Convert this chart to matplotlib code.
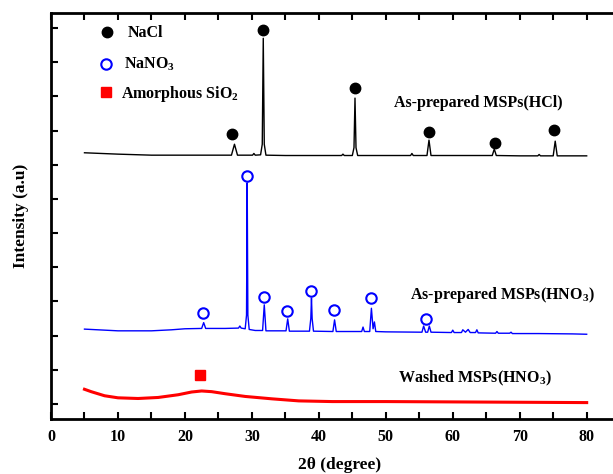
import numpy as np
import matplotlib
matplotlib.use('Agg')
import matplotlib.pyplot as plt
from matplotlib.ticker import MultipleLocator

plt.rcParams['font.family'] = ['Liberation Serif', 'DejaVu Serif']
plt.rcParams['font.weight'] = 'bold'
plt.rcParams['mathtext.fontset'] = 'custom'
plt.rcParams['mathtext.rm'] = 'Liberation Serif:bold'
plt.rcParams['mathtext.it'] = 'Liberation Serif:bold'
plt.rcParams['mathtext.bf'] = 'Liberation Serif:bold'

# traces (2theta, offset intensity)
hcl_x = [5, 10, 15, 20, 25, 26.95, 27.4, 27.85, 30.1, 30.3, 30.5, 31.3, 31.55, 31.7, 31.85, 32.1,
         35, 40, 43.4, 43.6, 43.8, 45.0, 45.25, 45.4, 45.55, 45.8, 50, 53.7, 53.9, 54.1,
         56.15, 56.45, 56.75, 60, 65.9, 66.2, 66.5, 70, 72.7, 72.9, 73.1, 75.0, 75.3, 75.6, 80]
hcl_y = [7.35, 7.31, 7.28, 7.28, 7.28, 7.28, 7.6, 7.28, 7.28, 7.33, 7.28, 7.29, 7.6, 10.7, 7.6, 7.28,
         7.27, 7.27, 7.27, 7.31, 7.27, 7.27, 7.5, 8.95, 7.5, 7.27, 7.27, 7.27, 7.33, 7.27,
         7.27, 7.72, 7.27, 7.27, 7.27, 7.46, 7.27, 7.26, 7.26, 7.3, 7.26, 7.26, 7.69, 7.26, 7.26]

hno3_x = [5, 10, 15, 18, 20, 22.5, 22.8, 23.1, 26, 28.0, 28.2, 28.4, 29.0, 29.2, 29.3, 29.4, 29.6,
          30.5, 31.6, 31.85, 32.1, 35.1, 35.35, 35.6, 38.6, 38.8, 38.9, 39.0, 39.2,
          42.1, 42.35, 42.6, 46.4, 46.6, 46.8, 47.6, 47.85, 48.1, 48.3, 48.5, 50,
          55.4, 55.65, 55.95, 56.25, 56.5, 56.75, 59.8, 60.0, 60.2, 61.3, 61.5, 61.9, 62.3, 62.6,
          63.4, 63.6, 63.8, 66.4, 66.6, 66.8, 68.5, 68.7, 68.9, 72.8, 77.9, 80]
hno3_y = [2.19, 2.14, 2.14, 2.17, 2.2, 2.21, 2.38, 2.21, 2.21, 2.22, 2.28, 2.22, 2.2, 2.6, 6.47, 2.6, 2.18,
          2.15, 2.15, 2.9, 2.14, 2.14, 2.49, 2.13, 2.13, 2.5, 3.1, 2.5, 2.13,
          2.12, 2.46, 2.12, 2.12, 2.25, 2.12, 2.12, 2.8, 2.2, 2.4, 2.12, 2.11,
          2.1, 2.28, 2.1, 2.1, 2.28, 2.1, 2.09, 2.16, 2.09, 2.09, 2.17, 2.1, 2.18, 2.09,
          2.09, 2.17, 2.08, 2.07, 2.12, 2.07, 2.07, 2.1, 2.06, 2.06, 2.05, 2.04]

wash_x = [5, 6, 8, 10, 13, 16, 19, 21, 22.5, 24, 26, 29, 33, 37, 42, 50, 60, 70, 80]
wash_y = [0.43, 0.36, 0.24, 0.18, 0.16, 0.19, 0.27, 0.35, 0.38, 0.36, 0.3, 0.22, 0.15, 0.09, 0.07, 0.07, 0.06, 0.05, 0.04]

# phase markers above the peaks
nacl_x = [27.0, 31.65, 45.45, 56.45, 66.35, 75.1]
nacl_y = [7.9, 10.93, 9.24, 7.95, 7.65, 8.02]
nano3_x = [22.7, 29.2, 31.8, 35.3, 38.9, 42.3, 47.8, 56.0]
nano3_y = [2.66, 6.68, 3.14, 2.72, 3.3, 2.75, 3.1, 2.5]
sio2_x = [22.2]
sio2_y = [0.85]

fig = plt.figure(figsize=(6.13, 4.74), dpi=100)
ax = fig.add_axes([51/613, 1-419/474, 1-51/613, (419-13)/474])

ax.plot(hcl_x, hcl_y, color='black', lw=1.0)
ax.plot(hno3_x, hno3_y, color='blue', lw=1.0)
ax.plot(wash_x, wash_y, color='red', lw=2.2)

ax.plot(nacl_x, nacl_y, 'o', color='black', ms=7.5, ls='')
ax.plot(nano3_x, nano3_y, 'o', mfc='none', mec='blue', mew=1.5, ms=7.5, ls='')
ax.plot(sio2_x, sio2_y, 's', color='red', ms=7, ls='')

# key in the upper left
ax.plot([8.36], [10.87], 'o', color='black', ms=7.5)
ax.text(11.5, 10.86, 'NaCl', fontsize=11.5, va='center', fontweight='bold')
ax.plot([8.2], [9.95], 'o', mfc='none', mec='blue', mew=1.5, ms=7.5)
ax.text(10.9, 9.93, 'NaNO$_3$', fontsize=11.5, va='center', fontweight='bold')
ax.plot([8.2], [9.13], 's', color='red', ms=7)
ax.text(10.45, 9.07, 'Amorphous SiO$_2$', fontsize=11.5, va='center', fontweight='bold')

ax.text(51.2, 8.8, 'As-prepared MSPs(HCl)', fontsize=11.5, va='center', fontweight='bold')
ax.text(53.6, 3.2, 'As-prepared MSPs(HNO$_3$)', fontsize=11.5, va='center', fontweight='bold')
ax.text(51.8, 0.75, 'Washed MSPs(HNO$_3$)', fontsize=11.5, va='center', fontweight='bold')

ax.set_xlim(0, (613-51)/6.696)
ax.set_ylim(-0.44, 11.44)
ax.xaxis.set_major_locator(MultipleLocator(10))
ax.xaxis.set_minor_locator(MultipleLocator(5))
ax.set_yticks(np.arange(0, 12))
ax.set_yticklabels([])
ax.tick_params(axis='both', which='both', direction='in', length=5, width=1.5)
ax.tick_params(axis='x', which='both', top=True, pad=7, labelsize=11.5)
for lab in ax.get_xticklabels():
    lab.set_fontweight('bold')
ax.spines['right'].set_visible(False)
for s in ['left', 'bottom', 'top']:
    ax.spines[s].set_linewidth(2)

ax.set_xlabel('2θ (degree)', fontsize=12.5, fontweight='bold')
ax.xaxis.set_label_coords((340-51)/562, -(457-419)/406)
ax.set_ylabel('Intensity (a.u)', fontsize=12.5, fontweight='bold')
ax.yaxis.set_label_coords(-(51-29)/562, 0.5)

fig.savefig('out.png', dpi=100)
